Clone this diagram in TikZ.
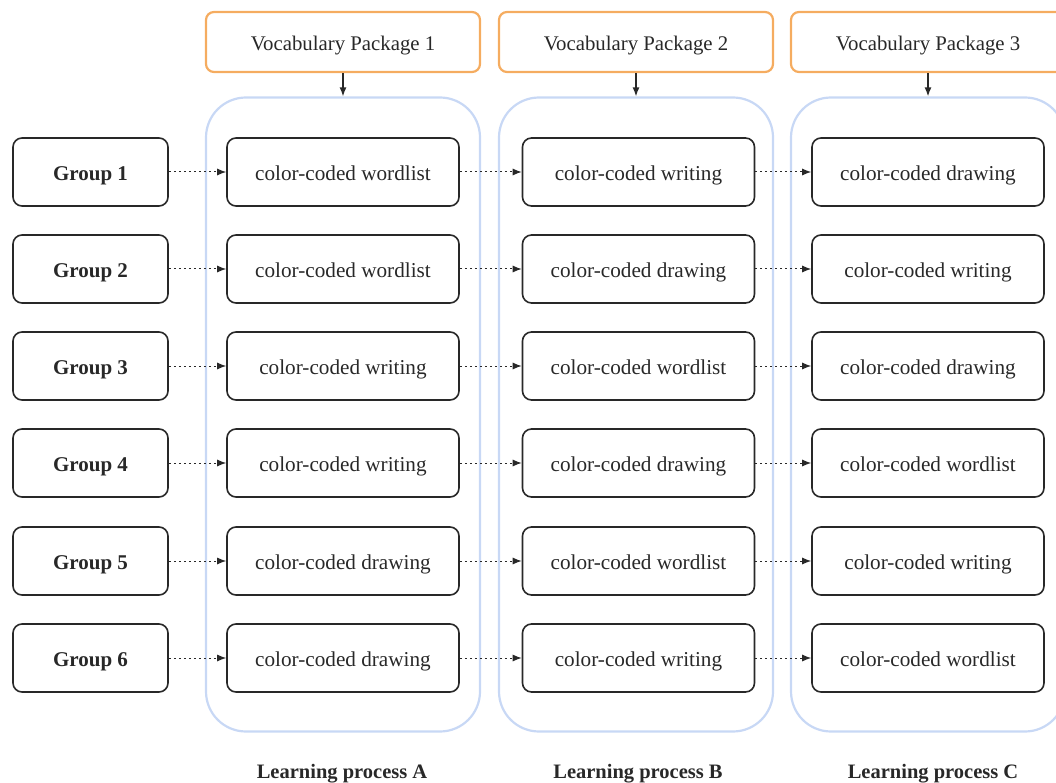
\documentclass[tikz,border=0pt]{standalone}
\usepackage{fontspec}
\setmainfont{Liberation Serif}
\usetikzlibrary{arrows.meta}
\definecolor{vporange}{RGB}{245,172,96}
\definecolor{lpblue}{RGB}{200,216,245}
\definecolor{ink}{RGB}{40,40,40}
\tikzset{
  txt/.style={text=ink, text height=17pt, text depth=0pt, inner sep=0pt},
  vpbox/.style={txt, draw=vporange, line width=2.2pt, rounded corners=8pt, minimum width=274pt, minimum height=60pt, font=\fontsize{20.8}{24}\selectfont},
  lpbox/.style={draw=lpblue, line width=2.2pt, rounded corners=40pt, minimum width=274pt, minimum height=634pt, inner sep=0pt},
  grpbox/.style={txt, draw=ink, line width=1.6pt, rounded corners=9pt, minimum width=155pt, minimum height=68pt, font=\fontsize{21}{24}\selectfont\bfseries},
  actbox/.style={txt, draw=ink, line width=1.6pt, rounded corners=9pt, minimum width=232pt, minimum height=68pt, font=\fontsize{21.2}{24}\selectfont},
  lplabel/.style={txt, font=\fontsize{20.5}{24}\selectfont\bfseries},
  dotarrow/.style={draw=ink, line width=1pt, dash pattern=on 2pt off 3pt, -{Latex[length=9pt,width=7pt]}},
  solidarrow/.style={draw=ink, line width=1.4pt, -{Latex[length=9pt,width=7pt]}}
}
\begin{document}
\begin{tikzpicture}[x=1pt,y=-1pt]
\useasboundingbox (0,0) rectangle (1056,783);
\clip (0,0) rectangle (1056,783);
% containers
\node[lpbox] (lpA) at (343,414.5) {};
\node[lpbox] (lpB) at (636,414.5) {};
\node[lpbox] (lpC) at (928,414.5) {};
% packages
\node[vpbox] (vp1) at (343,42) {Vocabulary Package 1};
\node[vpbox] (vp2) at (636,42) {Vocabulary Package 2};
\node[vpbox] (vp3) at (928,42) {Vocabulary Package 3};
\draw[solidarrow] (vp1.south) -- (lpA.north);
\draw[solidarrow] (vp2.south) -- (lpB.north);
\draw[solidarrow] (vp3.south) -- (lpC.north);
% rows
\foreach \i/\yy/\a/\b/\c in {
  1/172/wordlist/writing/drawing,
  2/269/wordlist/drawing/writing,
  3/366/writing/wordlist/drawing,
  4/463/writing/drawing/wordlist,
  5/561/drawing/wordlist/writing,
  6/658/drawing/writing/wordlist}{
  \node[grpbox] (g\i) at (90.5,\yy) {Group \i};
  \node[actbox] (a\i) at (343,\yy) {color-coded \a};
  \node[actbox] (b\i) at (638.5,\yy) {color-coded \b};
  \node[actbox] (c\i) at (928,\yy) {color-coded \c};
  \draw[dotarrow] (g\i.east) -- (a\i.west);
  \draw[dotarrow] (a\i.east) -- (b\i.west);
  \draw[dotarrow] (b\i.east) -- (c\i.west);
}
% labels
\node[lplabel] (tA) at (342,770) {Learning process A};
\node[lplabel] (tB) at (638,770) {Learning process B};
\node[lplabel] (tC) at (933,770) {Learning process C};
\end{tikzpicture}
\end{document}
